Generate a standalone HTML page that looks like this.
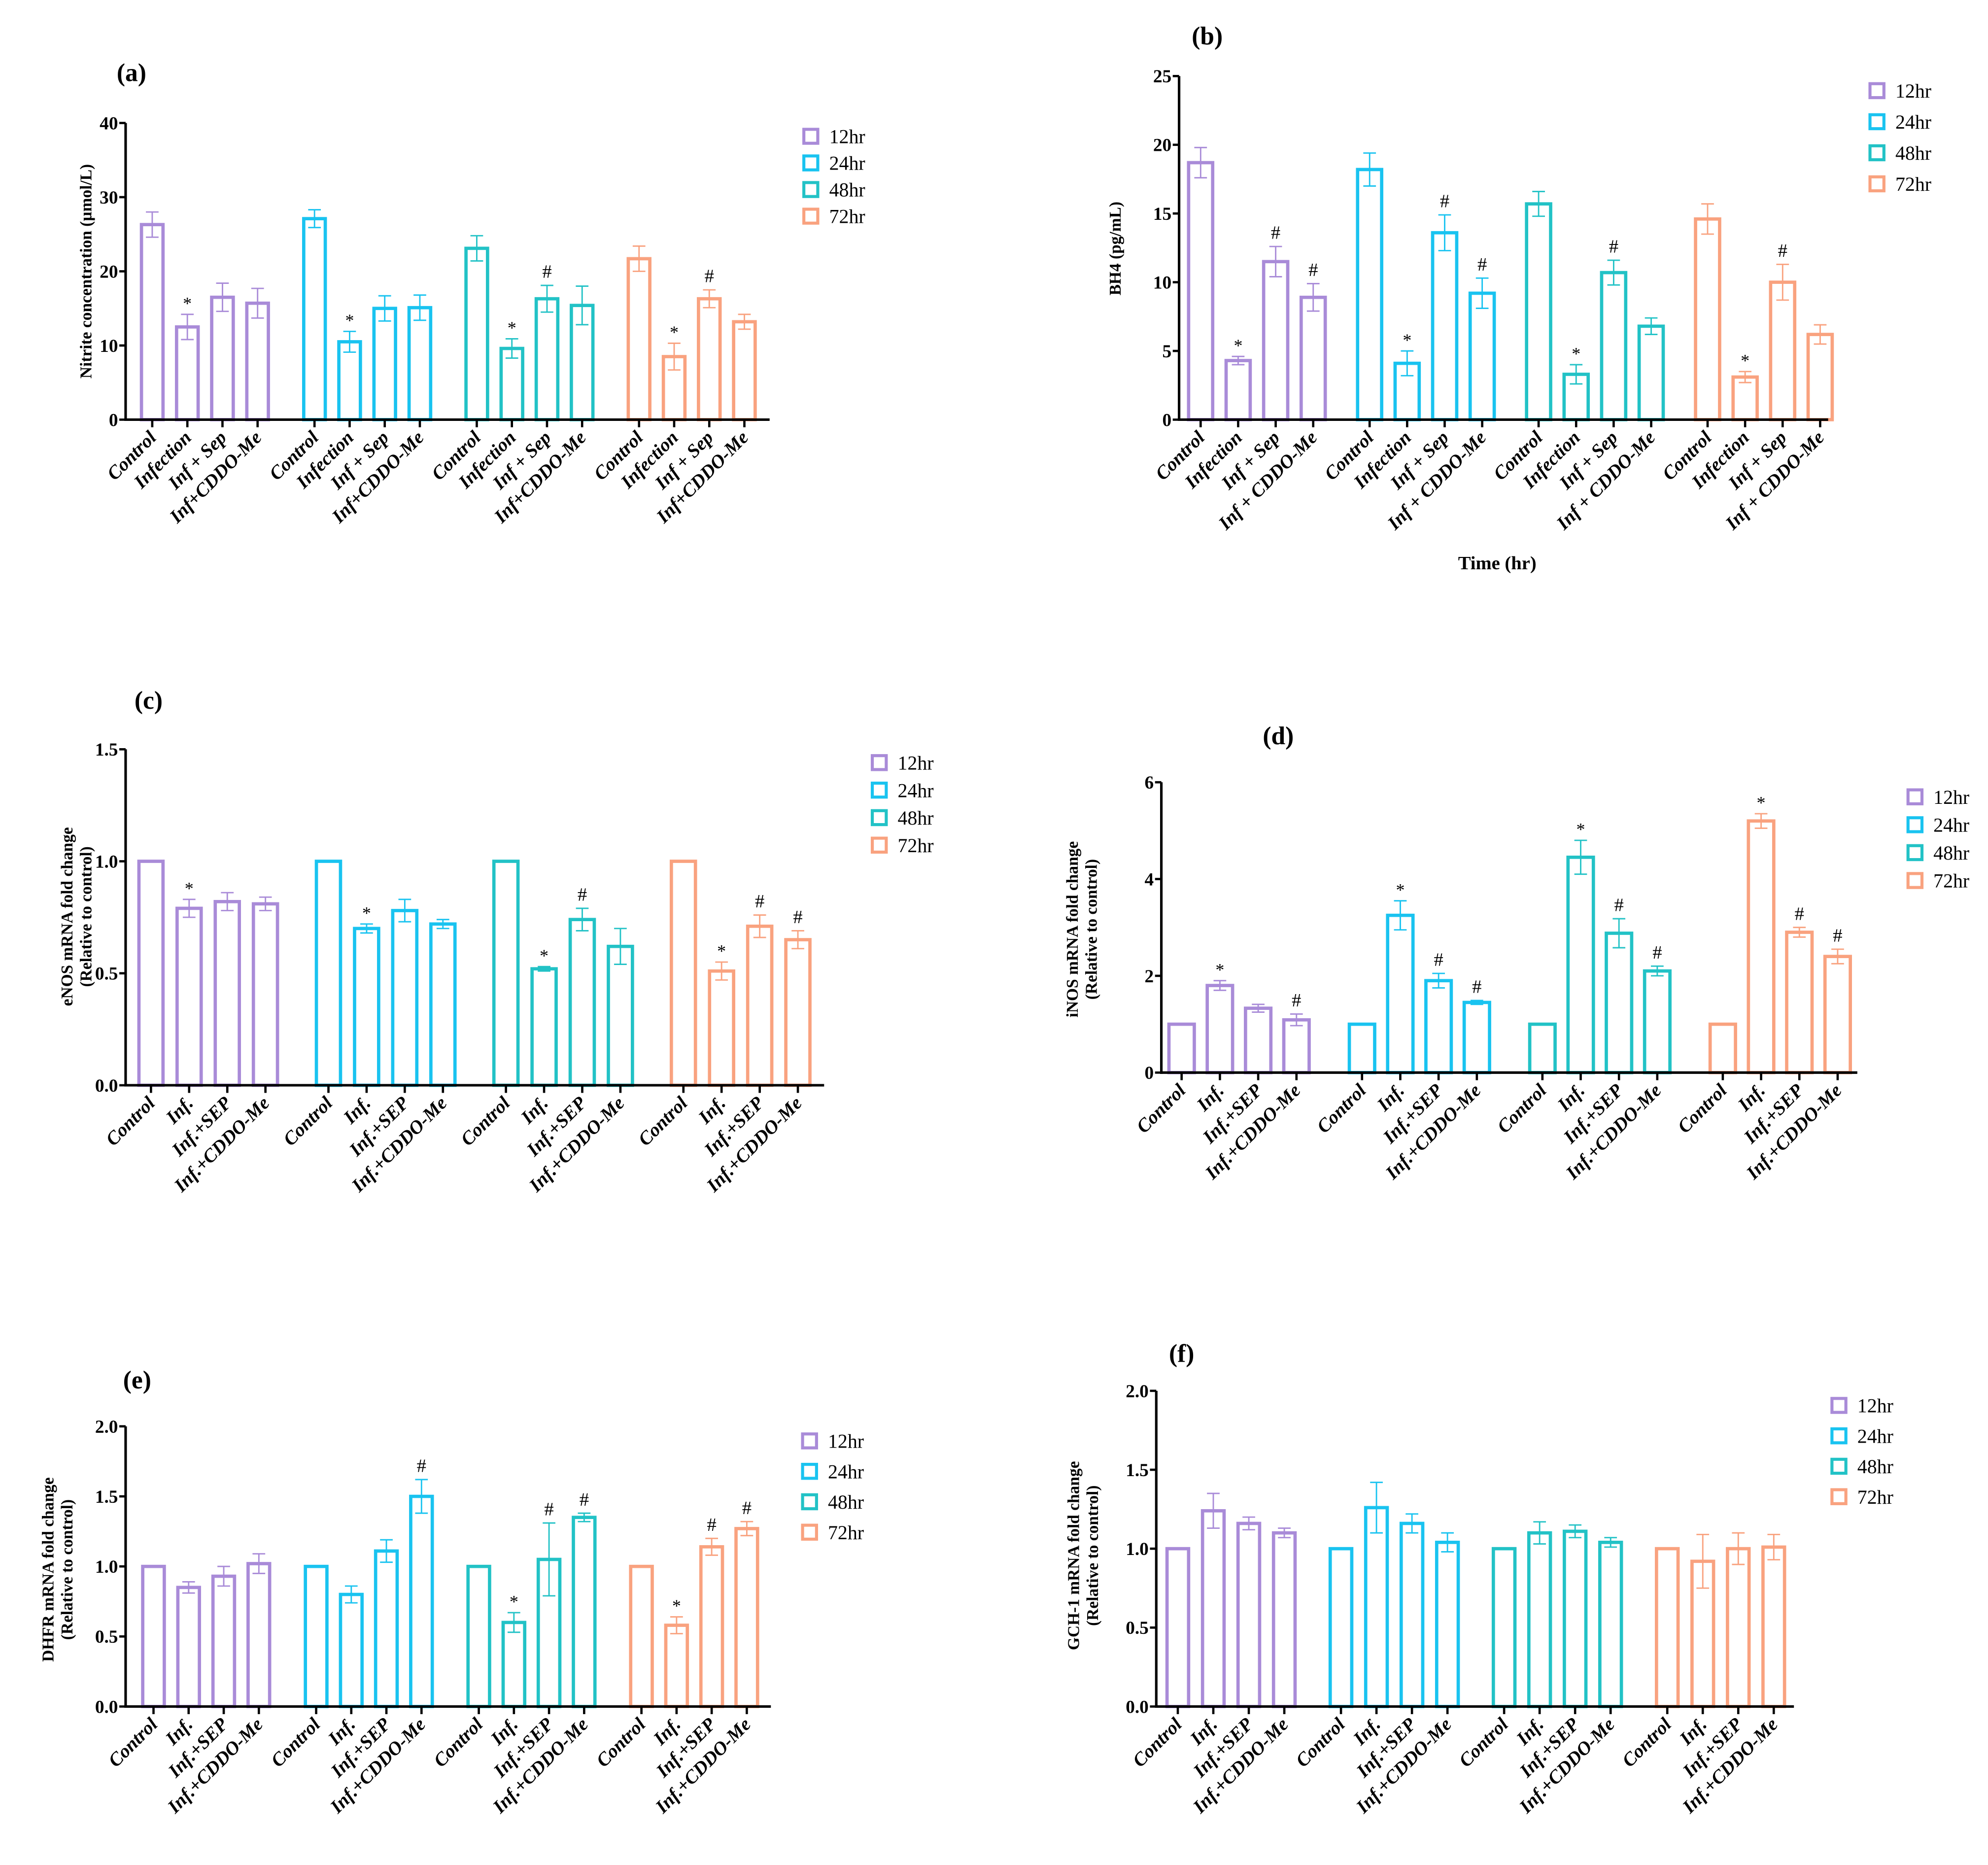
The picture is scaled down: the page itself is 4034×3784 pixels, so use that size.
<!DOCTYPE html>
<html><head><meta charset="utf-8">
<style>
html,body{margin:0;padding:0;background:#fff;}
svg{display:block;}
text{font-family:"Liberation Serif",serif;}
</style></head>
<body>
<svg id="fig" xmlns="http://www.w3.org/2000/svg" width="4034" height="3784" viewBox="0 0 1568 1471"></svg>
<script>
// ---------- DATA ----------
const seriesNames = ["12hr","24hr","48hr","72hr"];
const colors = ["#a98bd8","#19c3f0","#22c2c6","#f9a27f"];

const aLabels = ["Control","Infection","Inf + Sep","Inf+CDDO-Me"];
const aValues = [[26.3,12.5,16.5,15.7],[27.1,10.5,15.0,15.1],[23.1,9.6,16.3,15.4],[21.7,8.5,16.3,13.2]];
const aErrors = [[1.7,1.7,1.9,2.0],[1.2,1.4,1.7,1.7],[1.7,1.3,1.8,2.6],[1.7,1.8,1.2,1.0]];
const aMarks = [["","*","",""],["","*","",""],["","*","#",""],["","*","#",""]];
const aTicks = [0,10,20,30,40];

const bLabels = ["Control","Infection","Inf + Sep","Inf + CDDO-Me"];
const bValues = [[18.7,4.3,11.5,8.9],[18.2,4.1,13.6,9.2],[15.7,3.3,10.7,6.8],[14.6,3.1,10.0,6.2]];
const bErrors = [[1.1,0.3,1.1,1.0],[1.2,0.9,1.3,1.1],[0.9,0.7,0.9,0.6],[1.1,0.4,1.3,0.7]];
const bMarks = [["","*","#","#"],["","*","#","#"],["","*","#",""],["","*","#",""]];
const bTicks = [0,5,10,15,20,25];

const cLabels = ["Control","Inf.","Inf.+SEP","Inf.+CDDO-Me"];
const cValues = [[1,0.79,0.82,0.81],[1,0.70,0.78,0.72],[1,0.52,0.74,0.62],[1,0.51,0.71,0.65]];
const cErrors = [[0,0.04,0.04,0.03],[0,0.02,0.05,0.02],[0,0.01,0.05,0.08],[0,0.04,0.05,0.04]];
const cMarks = [["","*","",""],["","*","",""],["","*","#",""],["","*","#","#"]];
const cTicks = [0,0.5,1.0,1.5];

const dValues = [[1,1.8,1.33,1.09],[1,3.25,1.9,1.45],[1,4.45,2.88,2.1],[1,5.2,2.9,2.4]];
const dErrors = [[0,0.1,0.08,0.12],[0,0.3,0.15,0.04],[0,0.35,0.3,0.1],[0,0.15,0.1,0.15]];
const dMarks = [["","*","","#"],["","*","#","#"],["","*","#","#"],["","*","#","#"]];
const dTicks = [0,2,4,6];

const eValues = [[1,0.85,0.93,1.02],[1,0.80,1.11,1.50],[1,0.60,1.05,1.35],[1,0.58,1.14,1.27]];
const eErrors = [[0,0.04,0.07,0.07],[0,0.06,0.08,0.12],[0,0.07,0.26,0.03],[0,0.06,0.06,0.05]];
const eMarks = [["","","",""],["","","","#"],["","*","#","#"],["","*","#","#"]];
const eTicks = [0,0.5,1.0,1.5,2.0];

const fValues = [[1,1.24,1.16,1.10],[1,1.26,1.16,1.04],[1,1.10,1.11,1.04],[1,0.92,1.00,1.01]];
const fErrors = [[0,0.11,0.04,0.03],[0,0.16,0.06,0.06],[0,0.07,0.04,0.03],[0,0.17,0.10,0.08]];
const fMarks = [["","","",""],["","","",""],["","","",""],["","","",""]];
const fTicks = [0,0.5,1.0,1.5,2.0];

// ---------- DRAWING ----------
const NS = "http://www.w3.org/2000/svg";
const svg = document.getElementById("fig");
function el(tag, attrs, parent, txt){
  const e = document.createElementNS(NS, tag);
  for (const k in attrs) e.setAttribute(k, attrs[k]);
  if (txt !== undefined) e.textContent = txt;
  (parent||svg).appendChild(e);
  return e;
}

function panel(cfg){
  const g = el("g", {});
  
  
  const yScale = v => cfg.y0 - (v - cfg.tmin) / (cfg.tmax - cfg.tmin) * (cfg.y0 - cfg.y1);
  const xScale = (gi, i) => cfg.start + gi*cfg.gs + i*cfg.bs;
  const t = el("text", {x:cfg.titleX, y:cfg.titleY, "font-size":20, "font-weight":"bold"}, g, cfg.letter);
  
  
  cfg.values.forEach((grp, gi) => {
    grp.forEach((v, i) => {
      const cx = xScale(gi, i), yv = yScale(v), err = cfg.errors[gi][i];
      const bw = cfg.bw;
      const r = el("rect", {x:cx-bw/2, y:yv, width:bw, height:cfg.y0-yv, fill:"none", stroke:colors[gi], "stroke-width":2.6}, g);
      
      
      if (err > 0) {
        const ye = yScale(v+err), yl = yScale(v-err);
        el("line", {x1:cx, x2:cx, y1:ye, y2:yl, stroke:colors[gi], "stroke-width":1.1}, g);
        el("line", {x1:cx-5, x2:cx+5, y1:ye, y2:ye, stroke:colors[gi], "stroke-width":1.1}, g);
        el("line", {x1:cx-5, x2:cx+5, y1:yl, y2:yl, stroke:colors[gi], "stroke-width":1.1}, g);
      }
      const m = cfg.marks[gi][i];
      if (m) {
        const mt = el("text", {x:cx, y:yScale(v+err) - (m==="*"?4:6), "font-size":m==="*"?14:15, "text-anchor":"middle"}, g, m);
        
        
      }
      el("line", {x1:cx, x2:cx, y1:cfg.y0, y2:cfg.y0+6, stroke:"#000", "stroke-width":1.8}, g);
      const lx = cx + 4, ly = cfg.y0 + 15;
      const lt = el("text", {x:lx, y:ly, "font-size":15, "font-weight":"bold", "font-style":"italic", "text-anchor":"end", transform:`rotate(-45 ${lx} ${ly})`}, g, cfg.labels[i]);
      
      
    });
  });
  el("line", {x1:cfg.xa, x2:cfg.xa, y1:cfg.y1, y2:cfg.y0+1, stroke:"#000", "stroke-width":2}, g);
  el("line", {x1:cfg.xa-1, x2:cfg.xend, y1:cfg.y0, y2:cfg.y0, stroke:"#000", "stroke-width":2}, g);
  cfg.ticks.forEach(tv => {
    const y = yScale(tv);
    el("line", {x1:cfg.xa-5, x2:cfg.xa, y1:y, y2:y, stroke:"#000", "stroke-width":1.8}, g);
    const tt = el("text", {x:cfg.xa-6, y:y+5, "font-size":14.5, "font-weight":"bold", "text-anchor":"end"}, g, cfg.fmt(tv));
    
    
  });
  cfg.ytitle.forEach((line, k) => {
    const x = cfg.ytx + k*15, y = cfg.yty;
    const yt = el("text", {x:x, y:y, "font-size":13, "font-weight":"bold", "text-anchor":"middle", transform:`rotate(-90 ${x} ${y})`}, g, line);
    
    
  });
  seriesNames.forEach((s, k) => {
    const ly = cfg.legY + k*cfg.legDy;
    const lg = el("g", {}, g);
    
    
    el("rect", {x:cfg.legX, y:ly-5, width:11, height:11, fill:"none", stroke:colors[k], "stroke-width":2.4}, lg);
    el("text", {x:cfg.legX+20, y:ly+6, "font-size":15.5}, lg, s);
  });
  return g;
}

const f1 = v => String(v);
const f2 = v => v.toFixed(1);

panel({name:"panel-a-nitrite", letter:"(a)", titleX:92, titleY:64, values:aValues, errors:aErrors, marks:aMarks, labels:aLabels,
  ticks:aTicks, tmin:0, tmax:40, fmt:f1, xa:99, xend:607, y0:331, y1:97, start:120, gs:128, bs:27.7, bw:17,
  ytitle:["Nitrite concentration (µmol/L)"], ytx:72, yty:214, legX:634, legY:107, legDy:21});
panel({name:"panel-b-bh4", letter:"(b)", titleX:940, titleY:35, values:bValues, errors:bErrors, marks:bMarks, labels:bLabels,
  ticks:bTicks, tmin:0, tmax:25, fmt:f1, xa:930, xend:1442, y0:331, y1:60, start:947, gs:133.3, bs:29.6, bw:19,
  ytitle:["BH4 (pg/mL)"], ytx:884, yty:196, legX:1475, legY:71, legDy:24.5});
const tx = el("text", {x:1181, y:449, "font-size":15, "font-weight":"bold", "text-anchor":"middle"}, svg, "Time (hr)");


panel({name:"panel-c-enos", letter:"(c)", titleX:106, titleY:559, values:cValues, errors:cErrors, marks:cMarks, labels:cLabels,
  ticks:cTicks, tmin:0, tmax:1.5, fmt:f2, xa:99, xend:650, y0:856, y1:591, start:119, gs:140, bs:30.1, bw:19,
  ytitle:["eNOS mRNA fold change","(Relative to control)"], ytx:57, yty:723, legX:688, legY:601, legDy:21.7});
panel({name:"panel-d-inos", letter:"(d)", titleX:996, titleY:587, values:dValues, errors:dErrors, marks:dMarks, labels:cLabels,
  ticks:dTicks, tmin:0, tmax:6, fmt:f1, xa:916, xend:1465, y0:846, y1:617, start:932, gs:142.3, bs:30.2, bw:20,
  ytitle:["iNOS mRNA fold change","(Relative to control)"], ytx:850, yty:733, legX:1505, legY:628, legDy:22});
panel({name:"panel-e-dhfr", letter:"(e)", titleX:97, titleY:1095, values:eValues, errors:eErrors, marks:eMarks, labels:cLabels,
  ticks:eTicks, tmin:0, tmax:2.0, fmt:f2, xa:99, xend:608, y0:1346, y1:1125, start:121, gs:128.3, bs:27.7, bw:17,
  ytitle:["DHFR mRNA fold change","(Relative to control)"], ytx:42, yty:1238, legX:633, legY:1136, legDy:24});
panel({name:"panel-f-gch1", letter:"(f)", titleX:922, titleY:1074, values:fValues, errors:fErrors, marks:fMarks, labels:cLabels,
  ticks:fTicks, tmin:0, tmax:2.0, fmt:f2, xa:912, xend:1415, y0:1346, y1:1097, start:929, gs:128.7, bs:28, bw:17,
  ytitle:["GCH-1 mRNA fold change","(Relative to control)"], ytx:851, yty:1227, legX:1445, legY:1108, legDy:24});
</script>
</body></html>
